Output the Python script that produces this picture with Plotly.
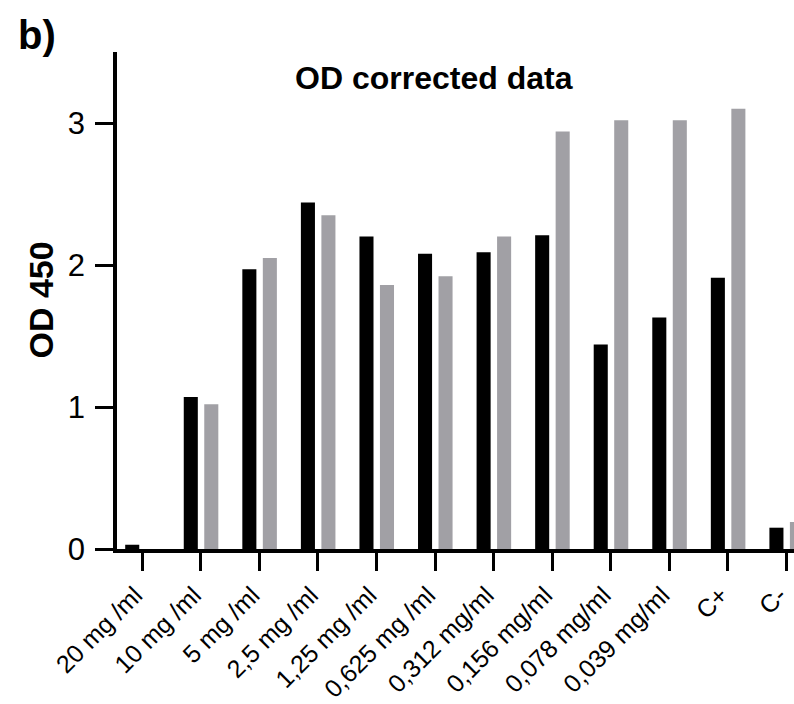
import plotly.graph_objects as go

categories = ["20 mg /ml", "10 mg /ml", "5 mg /ml", "2,5 mg /ml", "1,25 mg /ml",
              "0,625 mg /ml", "0,312 mg/ml", "0,156 mg/ml", "0,078 mg/ml",
              "0,039 mg/ml", "C+", "C-"]
series_black = [0.03, 1.07, 1.97, 2.44, 2.20, 2.08, 2.09, 2.21, 1.44, 1.63, 1.91, 0.15]
series_gray = [0.0, 1.02, 2.05, 2.35, 1.86, 1.92, 2.20, 2.94, 3.02, 3.02, 3.10, 0.19]
y_ticks = [0, 1, 2, 3]

FONT = "Liberation Sans, Arial, sans-serif"

fig = go.Figure()
fig.add_trace(go.Bar(x=categories, y=series_black, width=0.24, offset=-0.29,
                     marker=dict(color="#000000", line=dict(width=0)), showlegend=False))
fig.add_trace(go.Bar(x=categories, y=series_gray, width=0.24, offset=0.06,
                     marker=dict(color="#a1a0a5", line=dict(width=0)), showlegend=False))

fig.update_layout(
    width=794, height=704,
    margin=dict(l=117, r=0, t=52, b=155),
    barmode="overlay",
    plot_bgcolor="white", paper_bgcolor="white",
    font=dict(family=FONT, color="black"),
    xaxis=dict(range=[-0.43, 11.13], showline=True, linecolor="black", linewidth=3.5,
               ticks="outside", ticklen=18, tickwidth=3, tickcolor="black",
               tickangle=-45, tickfont=dict(size=25, family=FONT, color="black"),
               ticklabelshift=-7,
               showgrid=False, zeroline=False, automargin=False),
    yaxis=dict(range=[0, 3.5], showline=True, linecolor="black", linewidth=3.5,
               tickvals=y_ticks, ticks="outside", ticklen=18, tickwidth=3,
               tickcolor="black", tickfont=dict(size=31, family=FONT, color="black"),
               showgrid=False, zeroline=False, ticklabelstandoff=4, automargin=False),
    annotations=[
        dict(text="<b>OD corrected data</b>", xref="paper", yref="paper",
             x=0.468, y=0.948, xanchor="center", yanchor="middle", showarrow=False,
             font=dict(size=32, family=FONT, color="black")),
        dict(text="<b>OD 450</b>", xref="paper", yref="paper",
             x=-0.1137, y=0.5, xanchor="center", yanchor="middle", textangle=-90,
             showarrow=False, font=dict(size=34, family=FONT, color="black")),
        dict(text="<b>b)</b>", xref="paper", yref="paper",
             x=(16 - 117) / 677, y=(549 - 35) / 497, xanchor="left", yanchor="middle",
             showarrow=False, font=dict(size=40, family=FONT, color="black")),
    ],
)

fig.write_html("out.html")
